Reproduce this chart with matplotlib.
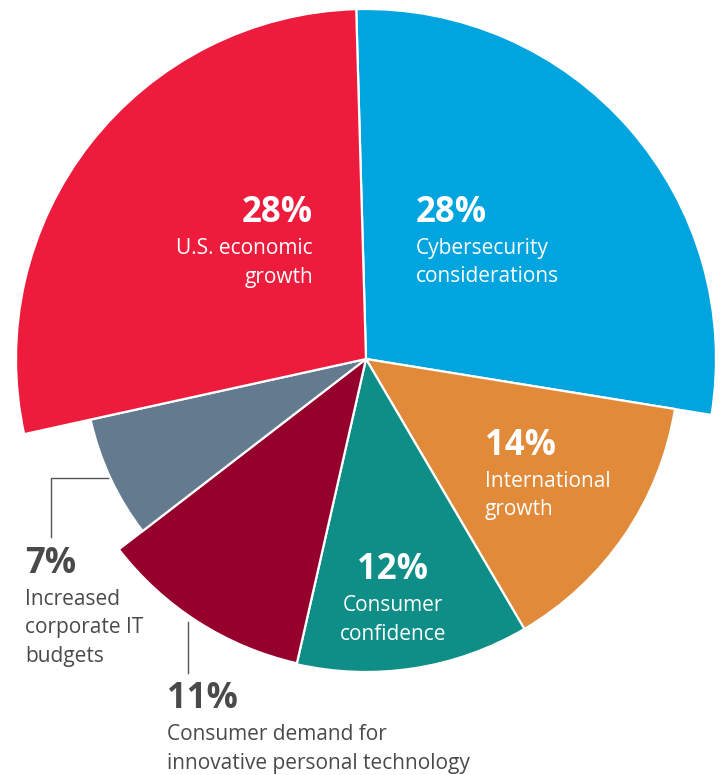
import matplotlib.pyplot as plt

labels = ["Cybersecurity\nconsiderations", "International\ngrowth", "Consumer\nconfidence",
          "Consumer demand for\ninnovative personal technology", "Increased\ncorporate IT\nbudgets",
          "U.S. economic\ngrowth"]
shares = [28, 14, 12, 11, 7, 28]
colors = ["#00A4DE", "#E08A3A", "#0E8E86", "#96002D", "#647B8F", "#ED1C3C"]
radii = [350, 313, 313, 312, 282, 350]

plt.rcParams['font.family'] = ['Open Sans', 'DejaVu Sans']
W, H = 725, 775
fig = plt.figure(figsize=(W / 100, H / 100), dpi=100)
ax = fig.add_axes([0, 0, 1, 1])

cx, cy = 366, H - 359
wedges, _ = ax.pie(shares, colors=colors, startangle=91.6, counterclock=False,
                   center=(cx, cy), radius=1, frame=True,
                   wedgeprops=dict(edgecolor='white', linewidth=1.6))
for w, r in zip(wedges, radii):
    w.set_radius(r)
ax.set_xlim(0, W)
ax.set_ylim(0, H)
ax.set_aspect('equal')
ax.axis('off')

def put(x, y, pct, text, ha, color):
    # y measured from the top edge
    ax.text(x, H - y, f"{pct}%", ha=ha, va='baseline', fontsize=25,
            fontweight='bold', color=color)
    for i, line in enumerate(text.split("\n")):
        ax.text(x, H - (y + 32 + 28.5 * i), line, ha=ha, va='baseline',
                fontsize=15, color=color)

grey = "#4A4A4A"
put(416, 222, shares[0], labels[0], 'left', 'white')
put(485, 455, shares[1], labels[1], 'left', 'white')
put(393, 579, shares[2], labels[2], 'center', 'white')
put(167, 708, shares[3], labels[3], 'left', grey)
put(25, 573, shares[4], labels[4], 'left', grey)
put(313, 222, shares[5], labels[5], 'right', 'white')

# leader lines for the outside labels
ax.plot([108, 51, 51], [H - 478, H - 478, H - 537], color="#555555", lw=1)
ax.plot([188, 188], [H - 622, H - 673], color="#555555", lw=1)

fig.savefig("out.png", dpi=100)
